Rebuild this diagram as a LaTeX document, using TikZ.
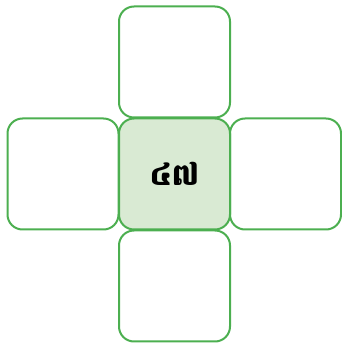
\documentclass[tikz,border=0pt]{standalone}
\usepackage{fontspec}
\newfontfamily\khfont[Script=Khmer]{Battambang}
\definecolor{boxgreen}{RGB}{76,175,80}
\definecolor{boxfill}{RGB}{217,234,211}
\begin{document}
\begin{tikzpicture}[x=1pt,y=1pt,
  cell/.style={draw=boxgreen, line width=2pt, rounded corners=15pt, minimum width=111pt, minimum height=111pt, inner sep=0pt},
  center cell/.style={cell, fill=boxfill}]
\useasboundingbox (0,0) rectangle (342,346);
\node[cell] (top) at (174.5,284) {};
\node[cell] (bottom) at (174.5,60) {};
\node[cell] (left) at (63,172) {};
\node[cell] (right) at (285.5,172) {};
\node[center cell, font=\khfont\bfseries\fontsize{30}{34}\selectfont] (mid) at (174.5,172) {៤៧};
\end{tikzpicture}
\end{document}
